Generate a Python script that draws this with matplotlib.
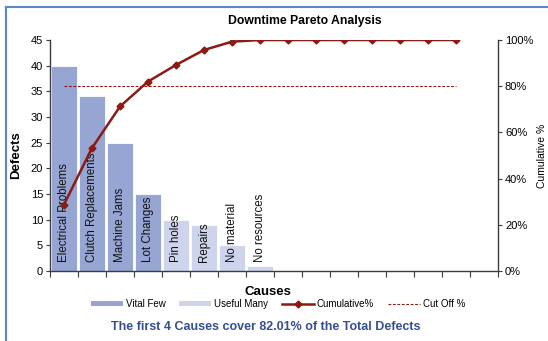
import numpy as np
import matplotlib
matplotlib.use("Agg")
import matplotlib.pyplot as plt
from matplotlib.lines import Line2D
from matplotlib.patches import Patch
from matplotlib.ticker import PercentFormatter
from matplotlib.transforms import ScaledTranslation

plt.rcParams["font.family"] = ["Liberation Sans", "DejaVu Sans"]

# Data
causes = ["Electrical Problems", "Clutch Replacements", "Machine Jams", "Lot Changes",
          "Pin holes", "Repairs", "No material", "No resources",
          "", "", "", "", "", "", ""]
defects = [40, 34, 25, 15, 10, 9, 5, 1, 0, 0, 0, 0, 0, 0, 0]
n_vital = 4
cutoff = 0.80
n_slots = 16  # category axis has one empty slot at the end

vital_color = "#97a5d3"
useful_color = "#cdd4ec"
line_color = "#8b1a12"
axis_color = "#3c3c3c"

defects = np.array(defects)
cum_pct = np.cumsum(defects) / defects.sum()
x = np.arange(len(causes))

fig = plt.figure(figsize=(5.48, 3.41), dpi=100)
ax = fig.add_axes([50 / 548, 1 - 271 / 341, 448 / 548, 231 / 341])

colors = [vital_color if i < n_vital else useful_color for i in x]
ax.bar(x, defects, width=0.9, color=colors, edgecolor="white", linewidth=0.6, zorder=1)

lift = ax.transData + ScaledTranslation(0, 9 / 100, fig.dpi_scale_trans)
for i, name in enumerate(causes):
    if name:
        ax.text(i, 0, name, rotation=90, ha="center", va="bottom", fontsize=8.3,
                color="#111111", zorder=3, transform=lift)

ax.set_xlim(-0.5, n_slots - 0.5)
ax.set_ylim(0, 45)
ax.set_yticks(np.arange(0, 46, 5))
ax.set_xticks(np.arange(-0.5, n_slots, 1))
ax.set_xticklabels([])
ax.tick_params(axis="x", length=4, width=0.8, color=axis_color)
ax.tick_params(axis="y", length=3, width=0.8, color=axis_color, labelsize=8, pad=2)
for s in ["top", "right"]:
    ax.spines[s].set_visible(False)
for s in ["left", "bottom"]:
    ax.spines[s].set_color(axis_color)
    ax.spines[s].set_linewidth(1.0)
ax.set_ylabel("Defects", fontsize=9.5, fontweight="bold", labelpad=6)
ax.set_xlabel("Causes", fontsize=9.5, fontweight="bold")
ax.xaxis.set_label_coords(0.487, -0.065)

ax2 = ax.twinx()
ax2.plot(x, cum_pct, color=line_color, lw=1.8, marker="D", markersize=3.5, zorder=4)
ax2.hlines(cutoff, x[0], x[-1], colors=line_color, linestyles=(0, (2.5, 1.5)), lw=0.8)
ax2.set_ylim(0, 1.0)
ax2.set_yticks(np.arange(0, 1.01, 0.2))
ax2.yaxis.set_major_formatter(PercentFormatter(1.0, decimals=0))
ax2.tick_params(axis="y", length=3, width=0.8, color=axis_color, labelsize=8, pad=2)
for s in ["top", "left", "bottom"]:
    ax2.spines[s].set_visible(False)
ax2.spines["right"].set_color(axis_color)
ax2.spines["right"].set_linewidth(1.0)
ax2.set_ylabel("Cumulative %", fontsize=7.5, labelpad=3)

fig.text(305 / 548, 1 - 21 / 341, "Downtime Pareto Analysis", ha="center", va="center",
         fontsize=8.8, fontweight="bold")

handles = [
    Patch(facecolor=vital_color, label="Vital Few"),
    Patch(facecolor=useful_color, label="Useful Many"),
    Line2D([], [], color=line_color, lw=1.8, marker="D", markersize=3.5, label="Cumulative%"),
    Line2D([], [], color=line_color, lw=0.8, ls=(0, (2.5, 1.5)), label="Cut Off %"),
]
fig.legend(handles=handles, loc="center", bbox_to_anchor=(278 / 548, 1 - 304 / 341), ncol=4,
           frameon=False, fontsize=7, handlelength=3.3, handleheight=0.45,
           handletextpad=0.3, columnspacing=1.4)

fig.text(266 / 548, 1 - 327 / 341, "The first 4 Causes cover 82.01% of the Total Defects",
         ha="center", va="center", fontsize=9, fontweight="bold", color="#34508f")

# frame lines at top and left edge
fig.add_artist(Line2D([6 / 548, 6 / 548], [0, 1 - 7 / 341], transform=fig.transFigure,
                      color="#5b85c6", lw=1.5))
fig.add_artist(Line2D([6 / 548, 1], [1 - 7 / 341, 1 - 7 / 341], transform=fig.transFigure,
                      color="#5b85c6", lw=1.5))

fig.savefig("out.png", dpi=100)
